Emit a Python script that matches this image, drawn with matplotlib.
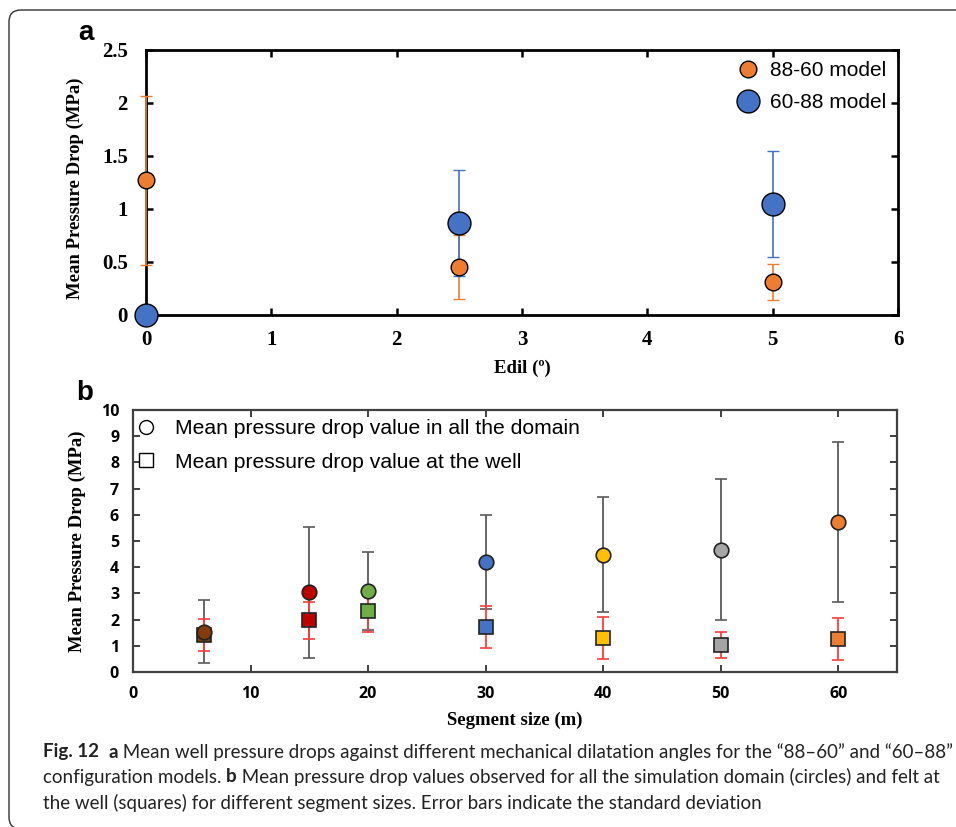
import matplotlib
matplotlib.use("Agg")
import matplotlib.pyplot as plt
from matplotlib.patches import FancyBboxPatch
from matplotlib.transforms import IdentityTransform
from matplotlib.lines import Line2D

# ---------------- Data: panel a ----------------
edil = [0, 2.5, 5]
m8860_mean = [1.27, 0.45, 0.31]
m8860_std = [0.80, 0.30, 0.17]
m6088_mean = [0.0, 0.87, 1.05]
m6088_std = [0.0, 0.50, 0.50]
a_xticks = [0, 1, 2, 3, 4, 5, 6]
a_yticks = [0, 0.5, 1, 1.5, 2, 2.5]
a_yticklabels = ["0", "0.5", "1", "1.5", "2", "2.5"]

# ---------------- Data: panel b ----------------
segment = [6, 15, 20, 30, 40, 50, 60]
domain_mean = [1.54, 3.05, 3.09, 4.20, 4.48, 4.67, 5.74]
domain_std = [1.20, 2.50, 1.50, 1.80, 2.20, 2.70, 3.05]
well_mean = [1.41, 1.97, 2.32, 1.72, 1.29, 1.03, 1.27]
well_std = [0.60, 0.70, 0.80, 0.80, 0.80, 0.50, 0.80]
seg_colors = ["#843C0C", "#C00000", "#70AD47", "#4472C4", "#FFC000", "#A5A5A5", "#ED7D31"]
b_xticks = [0, 10, 20, 30, 40, 50, 60]
b_yticks = list(range(0, 11))

W, H = 956, 827
fig = plt.figure(figsize=(W / 100, H / 100), dpi=100)

serif = "Liberation Serif"
sans = "Liberation Sans"
cap_font = "Lato"

def frac(x0, y0, x1, y1):
    return [x0 / W, 1 - y1 / H, (x1 - x0) / W, (y1 - y0) / H]

# ---------------- Panel a ----------------
ax = fig.add_axes(frac(146, 50, 898, 315))
orange = "#ED7D31"
blue = "#4472C4"
ax.errorbar(edil, m8860_mean, yerr=m8860_std, fmt="none", ecolor=orange,
            elinewidth=1.2, capsize=4, capthick=1.0, zorder=3, clip_on=False)
ax.errorbar(edil[1:], m6088_mean[1:], yerr=m6088_std[1:], fmt="none", ecolor=blue,
            elinewidth=1.2, capsize=4, capthick=1.0, zorder=3, clip_on=False)
ax.plot(edil, m8860_mean, "o", ms=12, mfc=orange, mec="black", mew=1.0,
        ls="none", zorder=5, clip_on=False, label="88-60 model")
ax.plot(edil, m6088_mean, "o", ms=16.5, mfc=blue, mec="black", mew=1.0,
        ls="none", zorder=5, clip_on=False, label="60-88 model")
ax.set_xlim(0, 6)
ax.set_ylim(0, 2.5)
ax.set_xticks(a_xticks)
ax.set_xticklabels([str(v) for v in a_xticks])
ax.set_yticks(a_yticks)
ax.set_yticklabels(a_yticklabels)
for s in ax.spines.values():
    s.set_linewidth(2.0)
    s.set_color("black")
ax.tick_params(direction="in", top=True, right=True, length=5, width=1.8,
               labelsize=15, pad=13)
ax.tick_params(axis="x", pad=11)
for lab in ax.get_xticklabels() + ax.get_yticklabels():
    lab.set_fontfamily(serif)
    lab.set_fontweight("bold")
ax.set_ylabel("Mean Pressure Drop (MPa)", fontfamily=serif, fontweight="bold", fontsize=13.5)
ax.yaxis.set_label_coords(-0.083, 0.48)
ax.set_xlabel("Edil (º)", fontfamily=serif, fontweight="bold", fontsize=13.5)
ax.xaxis.set_label_coords(0.501, -0.17)
leg = ax.legend(loc="upper right", frameon=False, prop={"family": sans, "size": 15},
                handletextpad=0.3, labelspacing=0.6, borderaxespad=0.15,
                handlelength=1.5)
fig.text(86 / W, 1 - 33 / H, "a", fontfamily=sans, fontweight="bold", fontsize=20,
         ha="center", va="center")

# ---------------- Panel b ----------------
bx = fig.add_axes(frac(133, 410, 897, 672))
for i in range(len(segment)):
    bx.errorbar(segment[i], domain_mean[i], yerr=domain_std[i], fmt="none",
                ecolor="#5A5A5A", elinewidth=1.3, capsize=4, capthick=1.2, zorder=2)
    bx.errorbar(segment[i], well_mean[i], yerr=well_std[i], fmt="none",
                ecolor="#FF3B3B", elinewidth=1.3, capsize=4, capthick=1.2, zorder=3)
for i in range(len(segment)):
    bx.plot(segment[i], well_mean[i], "s", ms=9.5, mfc=seg_colors[i], mec="#222222",
            mew=1.2, zorder=4)
    bx.plot(segment[i], domain_mean[i], "o", ms=10.5, mfc=seg_colors[i], mec="#222222",
            mew=1.2, zorder=5)
bx.set_xlim(0, 65)
bx.set_ylim(0, 10)
bx.set_xticks(b_xticks)
bx.set_xticklabels([str(v) for v in b_xticks])
bx.set_yticks(b_yticks)
bx.set_yticklabels([str(v) for v in b_yticks])
for s in bx.spines.values():
    s.set_linewidth(1.6)
    s.set_color("#404040")
bx.tick_params(direction="in", top=True, right=True, length=5, width=1.4,
               colors="#404040", labelcolor="black", labelsize=11.5, pad=10)
for lab in bx.get_xticklabels() + bx.get_yticklabels():
    lab.set_fontfamily("Open Sans")
    lab.set_fontweight("bold")
bx.set_ylabel("Mean Pressure Drop (MPa)", fontfamily=serif, fontweight="bold", fontsize=13.5)
bx.yaxis.set_label_coords(-0.061, 0.5)
bx.set_xlabel("Segment size (m)", fontfamily=serif, fontweight="bold", fontsize=13.5)
bx.xaxis.set_label_coords(0.5, -0.15)
handles = [
    Line2D([], [], marker="o", ls="none", ms=10, mfc="white", mec="black", mew=1.0),
    Line2D([], [], marker="s", ls="none", ms=9.5, mfc="white", mec="black", mew=1.0),
]
bx.legend(handles, ["Mean pressure drop value in all the domain",
                    "Mean pressure drop value at the well"],
          loc="upper left", bbox_to_anchor=(-0.007, 1.0), frameon=False,
          prop={"family": sans, "size": 15.2},
          handletextpad=1.0, labelspacing=0.68, borderaxespad=0.0, handlelength=0.8,
          borderpad=0.45)
fig.text(85 / W, 1 - 393 / H, "b", fontfamily=sans, fontweight="bold", fontsize=20,
         ha="center", va="center")

# ---------------- Border ----------------
box = FancyBboxPatch((9, -2), 1100, H - 10 + 2, boxstyle="round,pad=0,rounding_size=12",
                     transform=IdentityTransform(), fill=False, ec="#333333", lw=1.0,
                     clip_on=False)
fig.patches.append(box)

# ---------------- Caption ----------------
lines = [
    [("Fig. 12", "bold"), ("  ", "normal"), ("a", "bold"),
     (" Mean well pressure drops against different mechanical dilatation angles for the \u201c88\u201360\u201d and \u201c60\u201388\u201d", "normal")],
    [("configuration models. ", "normal"), ("b", "bold"),
     (" Mean pressure drop values observed for all the simulation domain (circles) and felt at", "normal")],
    [("the well (squares) for different segment sizes. Error bars indicate the standard deviation", "normal")],
]
line_y = [752, 777, 803]
cap_size = 12.5
renderer = fig.canvas.get_renderer()

def measure(runs, size):
    total = 0
    for t, w in runs:
        tt = fig.text(0, 0, t, fontfamily=cap_font, fontweight=w, fontsize=size)
        total += tt.get_window_extent(renderer).width
        tt.remove()
    return total

target = 954 - 43
wfirst = measure(lines[0], cap_size)
cap_size = cap_size * target / wfirst

for runs, yy in zip(lines, line_y):
    x = 43
    for t, w in runs:
        tt = fig.text(x / W, 1 - yy / H, t, fontfamily=cap_font, fontweight=w,
                      fontsize=cap_size, va="center", ha="left", color="#222222")
        x += tt.get_window_extent(renderer).width

fig.savefig("out.png", dpi=100)
